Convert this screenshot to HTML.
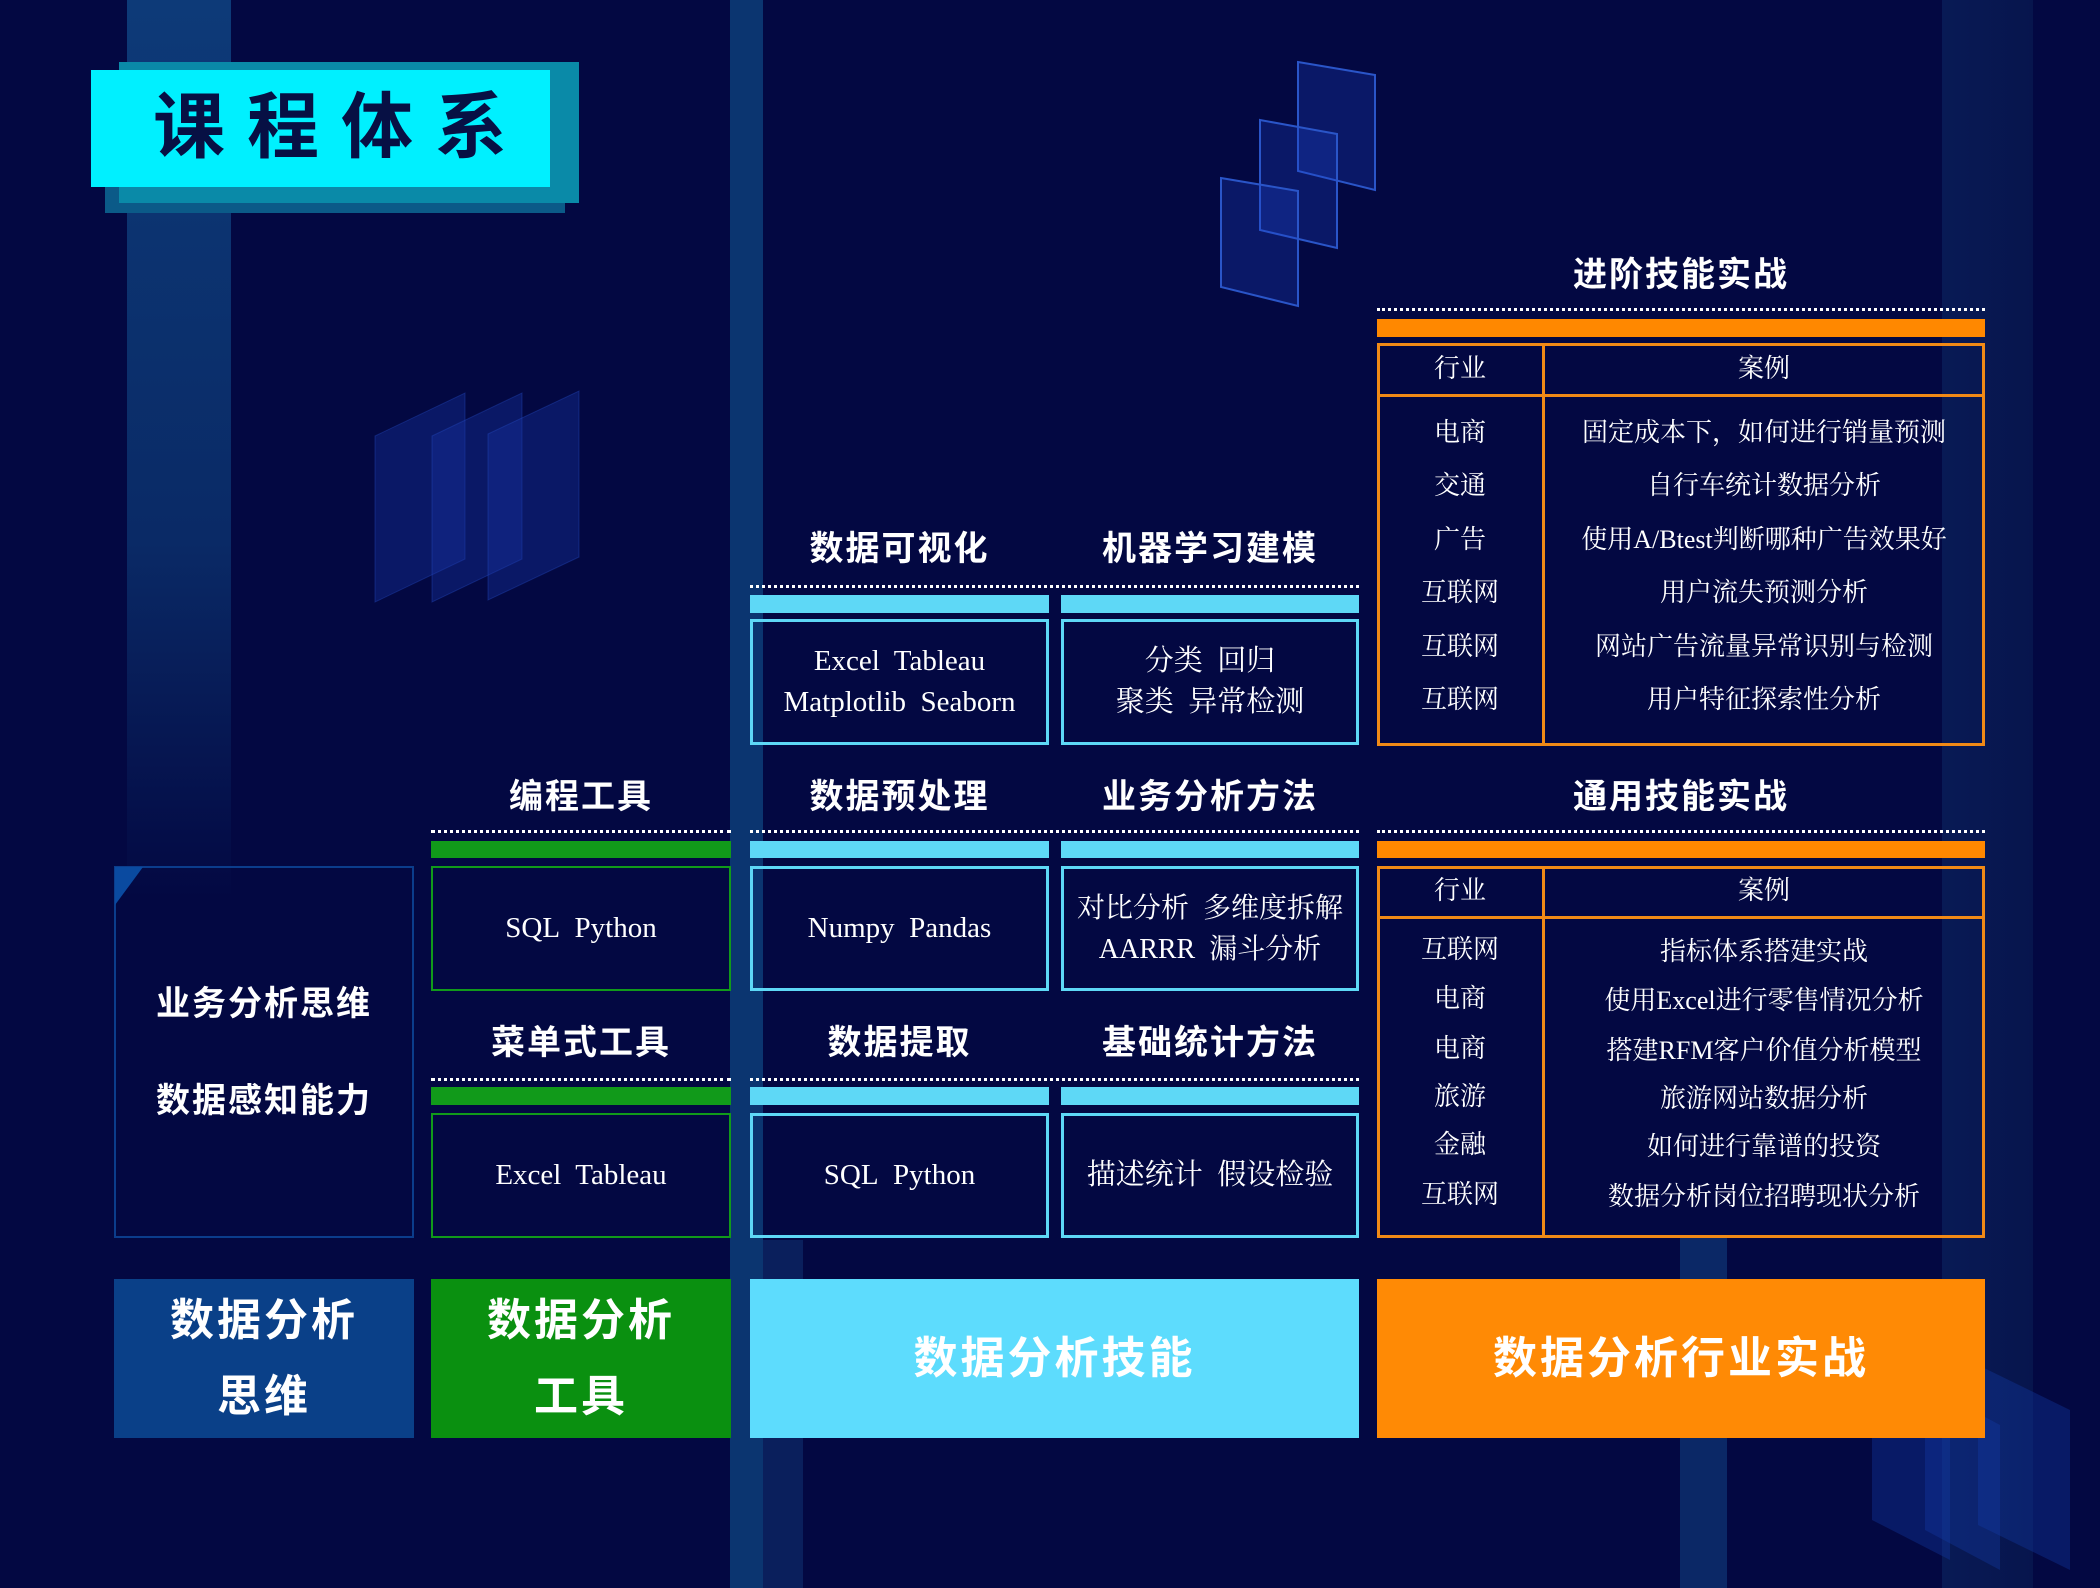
<!DOCTYPE html>
<html><head><meta charset="utf-8"><style>
*{margin:0;padding:0;box-sizing:border-box}
body{width:2100px;height:1588px;background:#030842;position:relative;overflow:hidden;font-family:"Liberation Sans","Noto Sans CJK SC",sans-serif}
.a{position:absolute}
.h{position:absolute;color:#fff;font-weight:bold;font-size:34px;text-align:center;line-height:40px;letter-spacing:2px}
.dot{position:absolute;height:0;border-top:3px dotted #fff}
.box{position:absolute;display:flex;align-items:center;justify-content:center;text-align:center;color:#fff;font-family:"Liberation Serif","Noto Serif CJK SC",serif;font-size:29px;line-height:41px;letter-spacing:0}
.cy{border:3px solid #5ed8f6}
.gr{border:2px solid #119a1a}
.big{position:absolute;display:flex;align-items:center;justify-content:center;text-align:center;color:#fff;font-weight:bold;font-size:44px;line-height:76px;letter-spacing:3px}
.t{position:absolute;color:#fff;font-family:"Liberation Serif","Noto Serif CJK SC",serif;font-size:26px;text-align:center;line-height:30px;white-space:nowrap}
</style></head><body>
<!-- background stripes -->
<div class="a" style="left:127px;top:0;width:104px;height:900px;background:linear-gradient(#0d3a78,#0a2a66 60%,rgba(10,40,100,0))"></div>
<div class="a" style="left:730px;top:0;width:33px;height:1588px;background:#0b3570"></div>
<div class="a" style="left:763px;top:1240px;width:40px;height:348px;background:#0a1f5c"></div>
<div class="a" style="left:1942px;top:0;width:91px;height:1588px;background:linear-gradient(90deg,#081a55,#07154d)"></div>
<div class="a" style="left:1680px;top:1235px;width:47px;height:353px;background:#0b2866"></div>
<svg class="a" style="left:0;top:0" width="2100" height="1588">
<g fill="rgba(25,55,170,0.35)" stroke="rgba(40,80,200,0.35)" stroke-width="1">
<polygon points="375,436 465,393 465,559 375,602"/>
<polygon points="432,436 522,393 522,559 432,602"/>
<polygon points="488,434 579,391 579,557 488,600"/>
</g>
<g fill="rgba(30,70,200,0.28)" stroke="#2a55c8" stroke-width="2">
<polygon points="1298,62 1375,75 1375,190 1298,171"/>
<polygon points="1260,120 1337,134 1337,248 1260,230"/>
<polygon points="1221,178 1298,191 1298,306 1221,287"/>
</g>
<g fill="rgba(20,60,170,0.35)">
<polygon points="1872,1370 1950,1410 1950,1560 1872,1520"/>
<polygon points="1925,1385 2000,1425 2000,1570 1925,1530"/>
<polygon points="1978,1365 2070,1410 2070,1570 1978,1525"/>
</g>
</svg>
<!-- title -->
<div class="a" style="left:105px;top:71px;width:460px;height:142px;background:#0b5a88"></div>
<div class="a" style="left:119px;top:62px;width:460px;height:141px;background:#0a8aa8"></div>
<div class="a" style="left:91px;top:70px;width:459px;height:117px;background:#00f0ff;color:#071044;font-weight:bold;font-size:72px;line-height:117px;padding-left:62px;letter-spacing:22px;white-space:nowrap">课程体系</div>

<!-- column 1 -->
<div class="a" style="left:114px;top:866px;width:300px;height:372px;border:2px solid #0b3d8c"></div>
<svg class="a" style="left:115px;top:867px" width="30" height="40"><polygon points="0,0 28,0 0,38" fill="#0a4aa0"/></svg>
<div class="h" style="left:114px;top:984px;width:300px">业务分析思维</div>
<div class="h" style="left:114px;top:1081px;width:300px">数据感知能力</div>
<div class="big" style="left:114px;top:1279px;width:300px;height:159px;background:#0a4088">数据分析<br>思维</div>

<!-- column 2 -->
<div class="h" style="left:431px;top:777px;width:300px">编程工具</div>
<div class="dot" style="left:431px;top:830px;width:300px"></div>
<div class="a" style="left:431px;top:841px;width:300px;height:17px;background:#119a1a"></div>
<div class="box gr" style="left:431px;top:866px;width:300px;height:125px">SQL&nbsp; Python</div>
<div class="h" style="left:431px;top:1023px;width:300px">菜单式工具</div>
<div class="dot" style="left:431px;top:1078px;width:300px"></div>
<div class="a" style="left:431px;top:1087px;width:300px;height:18px;background:#119a1a"></div>
<div class="box gr" style="left:431px;top:1113px;width:300px;height:125px">Excel&nbsp; Tableau</div>
<div class="big" style="left:431px;top:1279px;width:300px;height:159px;background:#0a9010">数据分析<br>工具</div>

<!-- column 3 -->
<div class="h" style="left:750px;top:529px;width:299px">数据可视化</div>
<div class="h" style="left:1061px;top:529px;width:298px">机器学习建模</div>
<div class="dot" style="left:750px;top:585px;width:609px"></div>
<div class="a" style="left:750px;top:595px;width:299px;height:18px;background:#5ed8f6"></div>
<div class="a" style="left:1061px;top:595px;width:298px;height:18px;background:#5ed8f6"></div>
<div class="box cy" style="left:750px;top:619px;width:299px;height:126px">Excel&nbsp; Tableau<br>Matplotlib&nbsp; Seaborn</div>
<div class="box cy" style="left:1061px;top:619px;width:298px;height:126px">分类&nbsp; 回归<br>聚类&nbsp; 异常检测</div>

<div class="h" style="left:750px;top:777px;width:299px">数据预处理</div>
<div class="h" style="left:1061px;top:777px;width:298px">业务分析方法</div>
<div class="dot" style="left:750px;top:830px;width:609px"></div>
<div class="a" style="left:750px;top:841px;width:299px;height:17px;background:#5ed8f6"></div>
<div class="a" style="left:1061px;top:841px;width:298px;height:17px;background:#5ed8f6"></div>
<div class="box cy" style="left:750px;top:866px;width:299px;height:125px">Numpy&nbsp; Pandas</div>
<div class="box cy" style="left:1061px;top:866px;width:298px;height:125px;font-size:28px">对比分析&nbsp; 多维度拆解<br>AARRR&nbsp; 漏斗分析</div>

<div class="h" style="left:750px;top:1023px;width:299px">数据提取</div>
<div class="h" style="left:1061px;top:1023px;width:298px">基础统计方法</div>
<div class="dot" style="left:750px;top:1078px;width:609px"></div>
<div class="a" style="left:750px;top:1087px;width:299px;height:18px;background:#5ed8f6"></div>
<div class="a" style="left:1061px;top:1087px;width:298px;height:18px;background:#5ed8f6"></div>
<div class="box cy" style="left:750px;top:1113px;width:299px;height:125px">SQL&nbsp; Python</div>
<div class="box cy" style="left:1061px;top:1113px;width:298px;height:125px">描述统计&nbsp; 假设检验</div>
<div class="big" style="left:750px;top:1279px;width:609px;height:159px;background:#5ddcfd">数据分析技能</div>

<!-- column 4 -->
<div class="h" style="left:1377px;top:255px;width:608px">进阶技能实战</div>
<div class="dot" style="left:1377px;top:308px;width:608px"></div>
<div class="a" style="left:1377px;top:319px;width:608px;height:18px;background:#ff8800"></div>
<div class="a" style="left:1377px;top:343px;width:608px;height:403px;border:3px solid #f18a16"></div>
<div class="a" style="left:1377px;top:394px;width:608px;height:3px;background:#f18a16"></div>
<div class="a" style="left:1542px;top:343px;width:3px;height:403px;background:#f18a16"></div>
<div class="t" style="left:1377px;top:354px;width:166px">行业</div>
<div class="t" style="left:1543px;top:354px;width:442px">案例</div>
<div class="t" style="left:1377px;top:418px;width:166px">电商</div><div class="t" style="left:1543px;top:418px;width:442px">固定成本下，如何进行销量预测</div>
<div class="t" style="left:1377px;top:471px;width:166px">交通</div><div class="t" style="left:1543px;top:471px;width:442px">自行车统计数据分析</div>
<div class="t" style="left:1377px;top:525px;width:166px">广告</div><div class="t" style="left:1543px;top:525px;width:442px">使用A/Btest判断哪种广告效果好</div>
<div class="t" style="left:1377px;top:578px;width:166px">互联网</div><div class="t" style="left:1543px;top:578px;width:442px">用户流失预测分析</div>
<div class="t" style="left:1377px;top:632px;width:166px">互联网</div><div class="t" style="left:1543px;top:632px;width:442px">网站广告流量异常识别与检测</div>
<div class="t" style="left:1377px;top:685px;width:166px">互联网</div><div class="t" style="left:1543px;top:685px;width:442px">用户特征探索性分析</div>

<div class="h" style="left:1377px;top:777px;width:608px">通用技能实战</div>
<div class="dot" style="left:1377px;top:830px;width:608px"></div>
<div class="a" style="left:1377px;top:841px;width:608px;height:17px;background:#ff8800"></div>
<div class="a" style="left:1377px;top:866px;width:608px;height:372px;border:3px solid #f18a16"></div>
<div class="a" style="left:1377px;top:916px;width:608px;height:3px;background:#f18a16"></div>
<div class="a" style="left:1542px;top:866px;width:3px;height:372px;background:#f18a16"></div>
<div class="t" style="left:1377px;top:876px;width:166px">行业</div>
<div class="t" style="left:1543px;top:876px;width:442px">案例</div>
<div class="t" style="left:1377px;top:935px;width:166px">互联网</div><div class="t" style="left:1543px;top:937px;width:442px">指标体系搭建实战</div>
<div class="t" style="left:1377px;top:984px;width:166px">电商</div><div class="t" style="left:1543px;top:986px;width:442px">使用Excel进行零售情况分析</div>
<div class="t" style="left:1377px;top:1034px;width:166px">电商</div><div class="t" style="left:1543px;top:1036px;width:442px">搭建RFM客户价值分析模型</div>
<div class="t" style="left:1377px;top:1082px;width:166px">旅游</div><div class="t" style="left:1543px;top:1084px;width:442px">旅游网站数据分析</div>
<div class="t" style="left:1377px;top:1130px;width:166px">金融</div><div class="t" style="left:1543px;top:1132px;width:442px">如何进行靠谱的投资</div>
<div class="t" style="left:1377px;top:1180px;width:166px">互联网</div><div class="t" style="left:1543px;top:1182px;width:442px">数据分析岗位招聘现状分析</div>
<div class="big" style="left:1377px;top:1279px;width:608px;height:159px;background:#ff8a05">数据分析行业实战</div>
</body></html>
